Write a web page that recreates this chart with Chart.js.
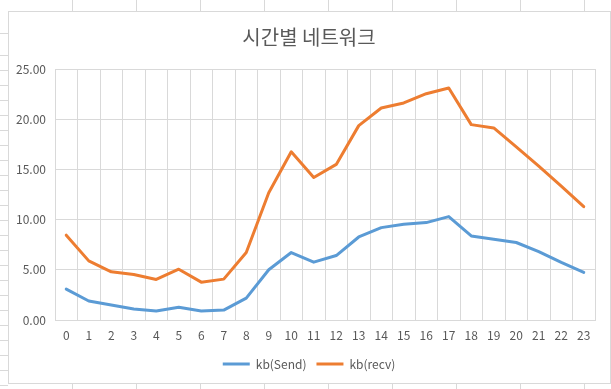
<!DOCTYPE html>
<html>
<head>
<meta charset="utf-8">
<script src="https://cdn.jsdelivr.net/npm/chart.js@4"></script>
<style>
  html, body { margin: 0; padding: 0; background: #fff; }
  #wrap { position: relative; width: 611px; height: 389px; overflow: hidden; }
  .cell { position: absolute; background: #d9d9d9; }
  #frame { position: absolute; left: 8px; top: 11px; width: 601px; height: 371px;
           border: 1px solid #d9d9d9; background: #fff; }
  canvas { position: absolute; left: 0; top: 0; }
</style>
</head>
<body>
<div id="wrap">
  <div id="frame"></div>
  <canvas id="chart" width="611" height="389"></canvas>
</div>
<script>
// 시간별 네트워크 — 시간(0~23)별 송신/수신 kb
const hours = ["0","1","2","3","4","5","6","7","8","9","10","11","12","13","14","15","16","17","18","19","20","21","22","23"];
const sendKb = [3.08, 1.89, 1.49, 1.09, 0.89, 1.26, 0.89, 0.99, 2.18, 5.00, 6.72, 5.76, 6.42, 8.27, 9.20, 9.53, 9.70, 10.30, 8.37, 8.04, 7.72, 6.82, 5.73, 4.74];
const recvKb = [8.45, 5.89, 4.80, 4.54, 4.04, 5.06, 3.77, 4.07, 6.72, 12.68, 16.75, 14.20, 15.50, 19.36, 21.12, 21.62, 22.54, 23.11, 19.46, 19.13, 17.25, 15.32, 13.34, 11.29];
const seriesNames = ["kb(Send)", "kb(recv)"];
const yMin = 0, yMax = 25, yStep = 5;

// 엑셀 셀 눈금선 (배경 장식)
(() => {
  const wrap = document.getElementById("wrap");
  const add = (l, t, w, h) => {
    const d = document.createElement("div");
    d.className = "cell";
    Object.assign(d.style, { left: l + "px", top: t + "px", width: w + "px", height: h + "px" });
    wrap.insertBefore(d, wrap.firstChild);
  };
  for (let x = 72; x < 611; x += 64) { add(x, 0, 1, 11); add(x, 383, 1, 6); }
  const rows = [33, 55];
  for (let y = 70; y < 389; y += 15) rows.push(y);
  rows.forEach(y => add(0, y, 8, 1));
})();

const grey = "#595959";
const gridCol = "#d9d9d9";
const font = { family: "'Noto Sans CJK KR', 'Noto Sans', sans-serif", size: 12 };

new Chart(document.getElementById("chart"), {
  type: "line",
  data: {
    labels: hours,
    datasets: [
      { label: seriesNames[0], data: sendKb, borderColor: "#5B9BD5", backgroundColor: "#5B9BD5", borderWidth: 3 },
      { label: seriesNames[1], data: recvKb, borderColor: "#ED7D31", backgroundColor: "#ED7D31", borderWidth: 3 },
    ],
  },
  options: {
    responsive: false,
    animation: false,
    devicePixelRatio: 1,
    elements: {
      line: { tension: 0, borderJoinStyle: "round", borderCapStyle: "round" },
      point: { radius: 0, hoverRadius: 0 },
    },
    layout: { padding: { left: 23, right: 16, top: 0, bottom: 9 } },
    plugins: {
      title: {
        display: true,
        text: "시간별 네트워크",
        color: grey,
        font: { family: font.family, size: 20, weight: "normal" },
        padding: { top: 25, bottom: 20 },
      },
      legend: {
        position: "bottom",
        labels: {
          color: grey,
          font,
          usePointStyle: true,
          pointStyle: "line",
          pointStyleWidth: 27,
          padding: 10,
        },
      },
      tooltip: { enabled: false },
    },
    scales: {
      x: {
        offset: true,
        grid: { offset: true, color: gridCol, drawTicks: false },
        border: { color: gridCol },
        ticks: { color: grey, font, padding: 8, maxRotation: 0, autoSkip: false },
        afterFit: s => { s.height = 28; },
      },
      y: {
        min: yMin,
        max: yMax,
        grid: { color: gridCol, drawTicks: false },
        border: { color: gridCol },
        // mirror + far: 오른쪽 정렬 유지, 라벨 영역 클리핑 회피
        ticks: { color: grey, font, mirror: true, crossAlign: "far", padding: -39, stepSize: yStep, callback: v => v.toFixed(2) },
        afterFit: s => { s.width = 32; },
      },
    },
  },
});
</script>
</body>
</html>
